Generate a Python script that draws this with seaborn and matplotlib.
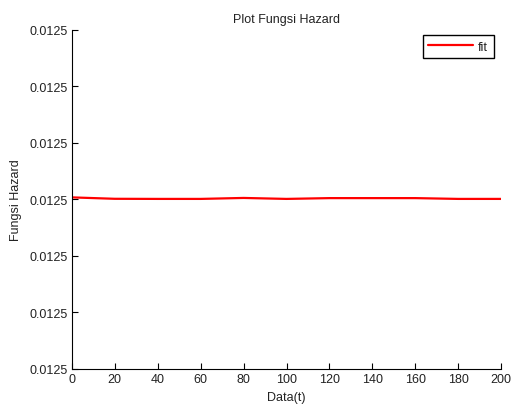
import matplotlib
matplotlib.use('Agg')
import matplotlib.pyplot as plt
import matplotlib.ticker as mticker
import pandas as pd
import seaborn as sns

# hazard values are all ~0.0125, tiny wiggles only
t_values = [0, 20, 40, 60, 80, 100, 120, 140, 160, 180, 200]
hazard_offset = [0.035, 0.010, 0.008, 0.008, 0.025, 0.008, 0.022, 0.022, 0.022, 0.008, 0.008]
BASE = 0.0125
STEP = 1e-9

hazard = [BASE + o * STEP for o in hazard_offset]
df = pd.DataFrame({'t': t_values, 'hazard': hazard})

sns.set_style('white')
plt.rcParams['font.family'] = ['Liberation Sans', 'DejaVu Sans']
plt.rcParams['font.size'] = 9
TEXT = '#222222'

fig = plt.figure(figsize=(5.13, 4.06), dpi=100)
ax = fig.add_axes([0.140, 0.089, 0.837, 0.835])

sns.lineplot(data=df, x='t', y='hazard', color='red', linewidth=1.6, label='fit', ax=ax)

ax.set_xlim(0, 200)
ax.set_ylim(BASE - 3 * STEP, BASE + 3 * STEP)
ax.set_xticks(t_values)
ax.set_yticks([BASE + k * STEP for k in range(-3, 4)])
ax.yaxis.set_major_formatter(mticker.FormatStrFormatter('%.4f'))

for side in ('top', 'right'):
    ax.spines[side].set_visible(False)
for side in ('left', 'bottom'):
    ax.spines[side].set_color('black')
    ax.spines[side].set_linewidth(0.8)
ax.tick_params(direction='in', length=4, width=0.8, colors='black', labelcolor=TEXT,
               labelsize=9, pad=3, left=True, bottom=True)

ax.set_title('Plot Fungsi Hazard', fontsize=9, pad=6, color=TEXT)
ax.set_xlabel('Data(t)', fontsize=9, labelpad=4, color=TEXT)
ax.set_ylabel('Fungsi Hazard', fontsize=9, labelpad=5, color=TEXT)

leg = ax.legend(loc='upper right', bbox_to_anchor=(0.983, 0.985), fancybox=False, framealpha=1,
                edgecolor='black', fontsize=9, handlelength=3.6, borderpad=0.45,
                handletextpad=0.4, borderaxespad=0)
leg.get_frame().set_linewidth(1.0)
for txt in leg.get_texts():
    txt.set_color(TEXT)

fig.savefig('out.png', dpi=100)
